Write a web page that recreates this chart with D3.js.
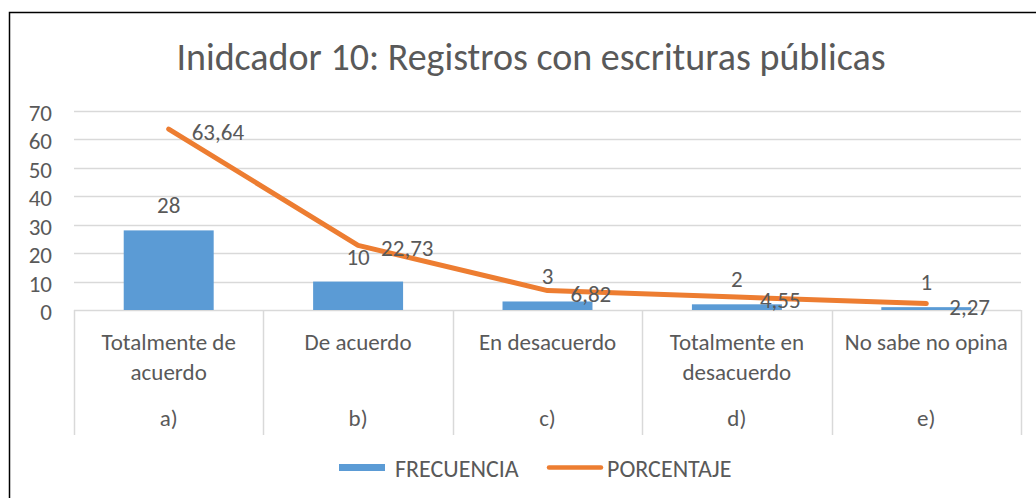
<!DOCTYPE html>
<html>
<head>
<meta charset="utf-8">
<script src="https://cdn.jsdelivr.net/npm/d3@7"></script>
<style>
  body { margin: 0; background: #fff; }
  svg text { font-family: Calibri, Carlito, Lato, sans-serif; fill: #595959; }
</style>
</head>
<body>
<div id="chart"></div>
<script>
// chart data
const categoryLines = [
  ["Totalmente de", "acuerdo"],
  ["De acuerdo"],
  ["En desacuerdo"],
  ["Totalmente en", "desacuerdo"],
  ["No sabe no opina"]
];
const groupLabels = ["a)", "b)", "c)", "d)", "e)"];
const frecuencia = [28, 10, 3, 2, 1];
const porcentaje = [63.64, 22.73, 6.82, 4.55, 2.27];
const yTicks = [0, 10, 20, 30, 40, 50, 60, 70];
const seriesNames = ["FRECUENCIA", "PORCENTAJE"];
const titleText = "Inidcador 10: Registros con escrituras públicas";

const width = 1036;
const height = 498;
const plot = { left: 74, right: 1021, top: 111, bottom: 310 };
const barColor = "#5b9bd5";
const lineColor = "#ed7d31";
const gridColor = "#d9d9d9";
const labelSize = "23px";

// decimal comma like the original
const esFormat = d3.formatLocale({ decimal: ",", thousands: ".", grouping: [3], currency: ["", ""] }).format(".2f");

var svg = d3.select("#chart")
  .append("svg")
  .attr("width", width)
  .attr("height", height);

// chart frame (right and bottom edges fall outside the picture)
svg.append("rect")
  .attr("x", 9.5)
  .attr("y", 12.5)
  .attr("width", 1060)
  .attr("height", 520)
  .attr("fill", "none")
  .attr("stroke", "#000")
  .attr("stroke-width", 1.5);

// title
svg.append("text")
  .attr("x", 531)
  .attr("y", 57)
  .attr("text-anchor", "middle")
  .attr("dominant-baseline", "central")
  .style("font-size", "38px")
  .text(titleText);

var x = d3.scaleBand()
  .domain(d3.range(categoryLines.length))
  .range([plot.left, plot.right]);

var y = d3.scaleLinear()
  .domain([0, 70])
  .range([plot.bottom, plot.top]);

// gridlines
svg.append("g")
  .selectAll("line")
  .data(yTicks)
  .enter()
  .append("line")
  .attr("x1", plot.left)
  .attr("x2", plot.right)
  .attr("y1", function(d) { return Math.round(y(d)) + 0.5; })
  .attr("y2", function(d) { return Math.round(y(d)) + 0.5; })
  .attr("stroke", gridColor)
  .attr("stroke-width", 1.5);

// y tick labels
svg.append("g")
  .selectAll("text")
  .data(yTicks)
  .enter()
  .append("text")
  .attr("x", plot.left - 22)
  .attr("y", function(d) { return y(d) + 2; })
  .attr("text-anchor", "end")
  .attr("dominant-baseline", "central")
  .style("font-size", labelSize)
  .text(function(d) { return d; });

// category dividers
var edges = d3.range(categoryLines.length + 1).map(function(i) {
  return i < categoryLines.length ? x(i) : plot.right;
});
svg.append("g")
  .selectAll("line")
  .data(edges)
  .enter()
  .append("line")
  .attr("x1", function(d) { return Math.round(d) + 0.5; })
  .attr("x2", function(d) { return Math.round(d) + 0.5; })
  .attr("y1", plot.bottom)
  .attr("y2", 435)
  .attr("stroke", gridColor)
  .attr("stroke-width", 1.5);

// category labels
var catG = svg.append("g")
  .selectAll("g")
  .data(categoryLines)
  .enter()
  .append("g");

catG.selectAll("text")
  .data(function(lines, i) {
    return lines.map(function(l) { return { text: l, i: i }; });
  })
  .enter()
  .append("text")
  .attr("x", function(d) { return x(d.i) + x.bandwidth() / 2; })
  .attr("y", function(d, j) { return 342 + j * 30; })
  .attr("text-anchor", "middle")
  .attr("dominant-baseline", "central")
  .style("font-size", labelSize)
  .text(function(d) { return d.text; });

svg.append("g")
  .selectAll("text")
  .data(groupLabels)
  .enter()
  .append("text")
  .attr("x", function(d, i) { return x(i) + x.bandwidth() / 2; })
  .attr("y", 418)
  .attr("text-anchor", "middle")
  .attr("dominant-baseline", "central")
  .style("font-size", labelSize)
  .text(function(d) { return d; });

// bars
var barWidth = x.bandwidth() * 0.475;
svg.append("g")
  .selectAll("rect")
  .data(frecuencia)
  .enter()
  .append("rect")
  .attr("x", function(d, i) { return x(i) + (x.bandwidth() - barWidth) / 2; })
  .attr("y", function(d) { return y(d); })
  .attr("width", barWidth)
  .attr("height", function(d) { return y(0) - y(d); })
  .attr("fill", barColor);

// bar labels
svg.append("g")
  .selectAll("text")
  .data(frecuencia)
  .enter()
  .append("text")
  .attr("x", function(d, i) { return x(i) + x.bandwidth() / 2; })
  .attr("y", function(d) { return y(d) - 25; })
  .attr("text-anchor", "middle")
  .attr("dominant-baseline", "central")
  .style("font-size", labelSize)
  .text(function(d) { return d; });

// percentage line
var pathGenerator = d3.line()
  .x(function(d, i) { return x(i) + x.bandwidth() / 2; })
  .y(function(d) { return y(d); });

svg.append("path")
  .datum(porcentaje)
  .attr("d", pathGenerator)
  .attr("fill", "none")
  .attr("stroke", lineColor)
  .attr("stroke-width", 5)
  .attr("stroke-linecap", "round")
  .attr("stroke-linejoin", "round");

// line labels, right of each point
svg.append("g")
  .selectAll("text")
  .data(porcentaje)
  .enter()
  .append("text")
  .attr("x", function(d, i) { return x(i) + x.bandwidth() / 2 + 23; })
  .attr("y", function(d) { return y(d) + 3; })
  .attr("dominant-baseline", "central")
  .style("font-size", labelSize)
  .text(function(d) { return esFormat(d); });

// legend
var legend = svg.append("g");
legend.append("rect")
  .attr("x", 339)
  .attr("y", 464)
  .attr("width", 46)
  .attr("height", 7)
  .attr("fill", barColor);
legend.append("text")
  .attr("x", 395)
  .attr("y", 468)
  .attr("dominant-baseline", "central")
  .style("font-size", "24px")
  .text(seriesNames[0]);
legend.append("line")
  .attr("x1", 549)
  .attr("x2", 601)
  .attr("y1", 467.5)
  .attr("y2", 467.5)
  .attr("stroke", lineColor)
  .attr("stroke-width", 4.5)
  .attr("stroke-linecap", "round");
legend.append("text")
  .attr("x", 607)
  .attr("y", 468)
  .attr("dominant-baseline", "central")
  .style("font-size", "24px")
  .text(seriesNames[1]);
</script>
</body>
</html>
